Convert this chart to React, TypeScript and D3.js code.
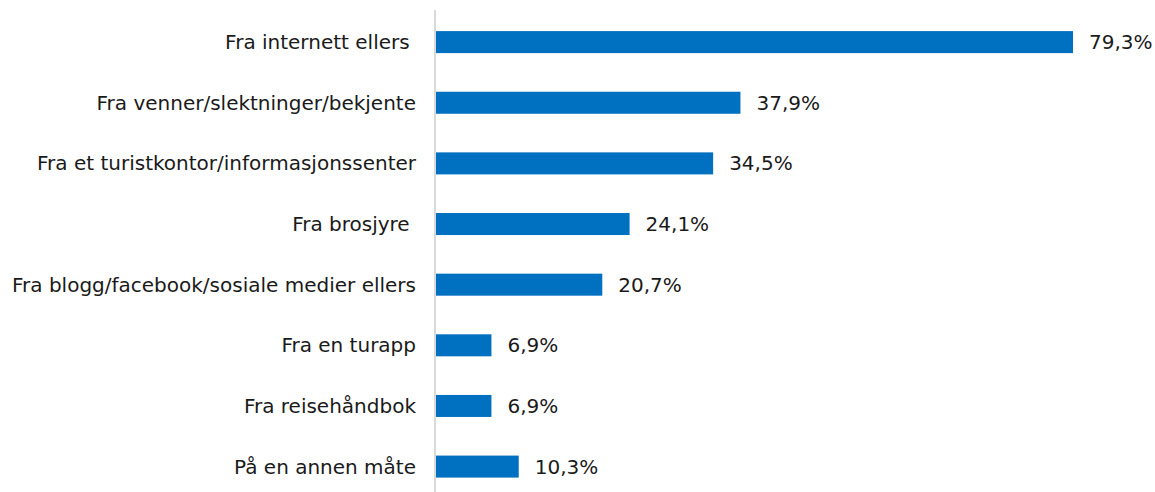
import React from "react";
import * as d3 from "d3";

const categories = [
  "Fra internett ellers ",
  "Fra venner/slektninger/bekjente",
  "Fra et turistkontor/informasjonssenter",
  "Fra brosjyre ",
  "Fra blogg/facebook/sosiale medier ellers",
  "Fra en turapp",
  "Fra reisehåndbok",
  "På en annen måte",
];
const values = [79.3, 37.9, 34.5, 24.1, 20.7, 6.9, 6.9, 10.3];

const W = 1155;
const H = 492;
const x0 = 436;
const FONT = "'DejaVu Sans', sans-serif";

export default function App() {
  const x = d3.scaleLinear().domain([0, 79.3]).range([x0, 1073]);
  const y = d3
    .scaleBand<string>()
    .domain(categories)
    .range([11.7, 497])
    .paddingInner(0.637)
    .paddingOuter(0.32);
  const fmt = (v: number) => d3.format(".1f")(v).replace(".", ",") + "%";
  return (
    <div style={{ position: "absolute", left: 0, top: 0 }}>
      <svg width={W} height={H} style={{ display: "block" }}>
        <rect width={W} height={H} fill="#ffffff" />
        {categories.map((c, i) => {
          const yy = y(c)!;
          const bw = y.bandwidth();
          const cy = yy + bw / 2;
          return (
            <g key={c}>
              <rect x={x(0)} y={yy} width={x(values[i]) - x(0)} height={bw} fill="#0070C0" />
              <text
                x={416}
                y={cy}
                dy="0.35em"
                textAnchor="end"
                fontFamily={FONT}
                fontSize={20}
                fill="#1a1a1a"
                style={{ whiteSpace: "pre" }}
              >
                {c}
              </text>
              <text
                x={x(values[i]) + 16}
                y={cy}
                dy="0.35em"
                fontFamily={FONT}
                fontSize={20}
                fill="#1a1a1a"
              >
                {fmt(values[i])}
              </text>
            </g>
          );
        })}
        <line x1={435} x2={435} y1={10} y2={492} stroke="#d9d9d9" strokeWidth={2} />
      </svg>
    </div>
  );
}
